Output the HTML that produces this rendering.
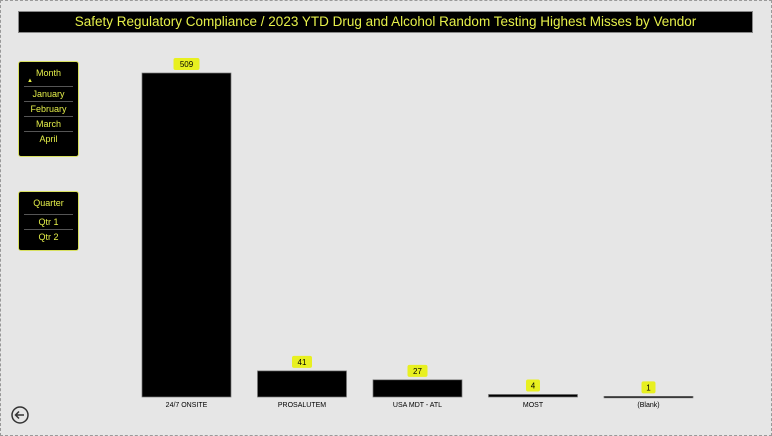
<!DOCTYPE html>
<html><head><meta charset="utf-8"><style>
body{margin:0;width:772px;height:436px;background:#e6e6e6;font-family:"Liberation Sans",sans-serif;overflow:hidden;position:relative}
.frame{position:absolute;left:0;top:0;width:770px;height:434px;border:1px dashed #999}
.title{position:absolute;left:18px;top:11px;width:733px;height:20px;background:#000;border:1px solid #888;color:#e6f04a;font-size:13.5px;text-align:center;line-height:20px}
.slicer{position:absolute;left:18px;background:#000;border:1px solid #d8e060;border-radius:3px;color:#e6f04a;font-size:9px;text-align:center}
.slicer .h{margin-top:6px}
.slicer .it{margin:0 5px;border-top:1px solid #555;height:14px;line-height:14px}
.lbl{font-size:7px;fill:#000}
</style></head><body>
<div class="frame"></div>
<div class="title">Safety Regulatory Compliance / 2023 YTD Drug and Alcohol Random Testing Highest Misses by Vendor</div>
<div class="slicer" style="top:61px;width:59px;height:94px">
<div class="h">Month</div>
<div style="text-align:left;margin-left:8px;font-size:6px;height:8px">▲</div>
<div class="it">January</div>
<div class="it">February</div>
<div class="it">March</div>
<div class="it">April</div>
</div>
<div class="slicer" style="top:191px;width:59px;height:58px">
<div class="h" style="margin-bottom:6px">Quarter</div>
<div class="it">Qtr 1</div>
<div class="it">Qtr 2</div>
</div>
<svg style="position:absolute;left:10px;top:405px" width="20" height="20"><circle cx="10" cy="10" r="8" fill="none" stroke="#333" stroke-width="1.5"/><path d="M14 10H6M9 6.5L5.5 10L9 13.5" fill="none" stroke="#333" stroke-width="1.5"/></svg>
<svg id="chart" style="position:absolute;left:0;top:0" width="772" height="436"></svg>
<script>
const categories=["24/7 ONSITE","PROSALUTEM","USA MDT - ATL","MOST","(Blank)"];
const values=[509,41,27,4,1];
const svg=document.getElementById('chart');
const NS='http://www.w3.org/2000/svg';
const baseY=397,plotH=324,maxV=509,x0=142,step=115.5,bw=89;
const y=v=>baseY-v/maxV*plotH;
categories.forEach((c,i)=>{
 const x=x0+i*step, top=y(values[i]);
 const r=document.createElementNS(NS,'rect');
 
 
 r.setAttribute('x',x);r.setAttribute('y',top);r.setAttribute('width',bw);r.setAttribute('height',Math.max(baseY-top,1.5));
 r.setAttribute('fill','#000');r.setAttribute('stroke','#777');r.setAttribute('stroke-width','0.7');
 svg.appendChild(r);
 const w=String(values[i]).length*6+8;
 const b=document.createElementNS(NS,'rect');
 
 
 b.setAttribute('x',x+bw/2-w/2);b.setAttribute('y',top-15);b.setAttribute('width',w);b.setAttribute('height',12);b.setAttribute('rx',2);b.setAttribute('fill','#e8f020');
 svg.appendChild(b);
 const t=document.createElementNS(NS,'text');
 
 
 t.setAttribute('x',x+bw/2);t.setAttribute('y',top-6);t.setAttribute('text-anchor','middle');t.setAttribute('font-size','8');
 t.textContent=values[i];svg.appendChild(t);
 const l=document.createElementNS(NS,'text');
 
 
 l.setAttribute('x',x+bw/2);l.setAttribute('y',407);l.setAttribute('text-anchor','middle');l.setAttribute('class','lbl');
 l.textContent=c;svg.appendChild(l);
});
</script>
</body></html>
